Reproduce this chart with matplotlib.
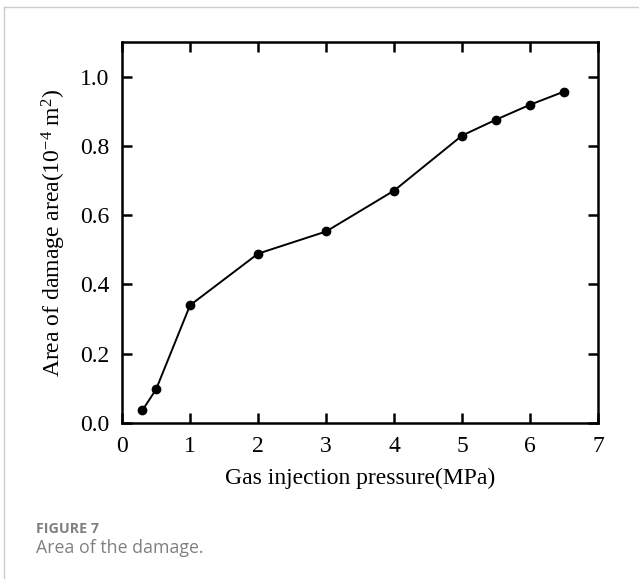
import matplotlib
matplotlib.use("Agg")
import matplotlib.pyplot as plt
from matplotlib.lines import Line2D

# gas injection pressure (MPa) and damage area (1e-4 m^2)
pressure = [0.3, 0.5, 1, 2, 3, 4, 5, 5.5, 6, 6.5]
area = [0.037, 0.097, 0.34, 0.489, 0.553, 0.671, 0.83, 0.876, 0.919, 0.957]

xticks = [0, 1, 2, 3, 4, 5, 6, 7]
yticks = [0.0, 0.2, 0.4, 0.6, 0.8, 1.0]

plt.rcParams['font.family'] = 'Liberation Serif'
plt.rcParams['mathtext.fontset'] = 'custom'
plt.rcParams['mathtext.rm'] = 'Liberation Serif'
plt.rcParams['mathtext.it'] = 'Liberation Serif:italic'

fig = plt.figure(figsize=(6.39, 5.79), dpi=100)
ax = fig.add_axes([0.191, 0.2694, 0.745, 0.658])

ax.plot(pressure, area, color='black', lw=1.4, marker='o', ms=6)

ax.set_xlim(0, 7)
ax.set_ylim(0, 1.1)
ax.set_xticks(xticks)
ax.set_yticks(yticks)
ax.set_yticklabels(['%.1f' % v for v in yticks])
ax.tick_params(direction='in', length=7, width=1.8, labelsize=17,
               top=True, right=True)
ax.tick_params(axis='x', pad=9)
ax.tick_params(axis='y', pad=9)
for s in ax.spines.values():
    s.set_linewidth(1.8)

ax.set_xlabel('Gas injection pressure(MPa)', fontsize=17, labelpad=8)
ax.set_ylabel('Area of damage area(10$^{-4}$ m$^{2}$)', fontsize=17, labelpad=9)

# light frame and caption around the figure
fig.add_artist(Line2D([0.006, 0.006], [0, 0.988], transform=fig.transFigure,
                      color='#cccccc', lw=1))
fig.add_artist(Line2D([0.006, 1], [0.988, 0.988], transform=fig.transFigure,
                      color='#cccccc', lw=1))
fig.text(0.056, 0.079, 'FIGURE 7', family='Open Sans', fontsize=10.3,
         fontweight='bold', color='#808080', va='baseline')
fig.text(0.056, 0.045, 'Area of the damage.', family='Open Sans',
         fontsize=12.8, color='#808080', va='baseline')

fig.savefig('out.png', dpi=100)
